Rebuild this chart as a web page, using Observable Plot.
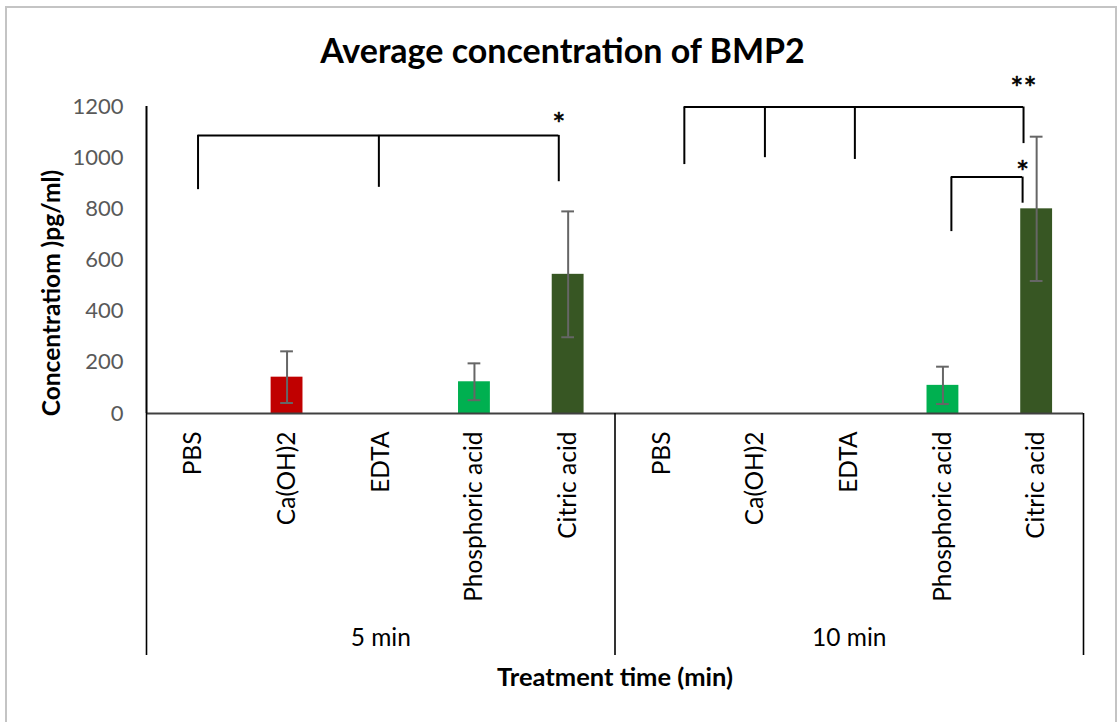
<!DOCTYPE html>
<html>
<head>
<meta charset="utf-8">
<script src="https://cdn.jsdelivr.net/npm/d3@7"></script>
<script src="https://cdn.jsdelivr.net/npm/@observablehq/plot@0.6"></script>
<style>
  body { margin: 0; background: #fff; }
  #wrap { position: relative; width: 1117px; height: 722px; overflow: hidden; background: #fff; font-family: Lato, "Open Sans", sans-serif; }
  #frame { position: absolute; left: 5px; top: 6px; width: 1112px; height: 740px; border: 2px solid #c4c4c4; box-sizing: border-box; }
  #title { position: absolute; left: 4px; width: 1117px; top: 33px; text-align: center; font-weight: bold; font-size: 34px; line-height: 34px; color: #000; }
  #chart { position: absolute; left: 0; top: 0; }
</style>
</head>
<body>
<div id="wrap">
  <div id="frame"></div>
  <div id="chart"></div>
  <div id="title"></div>
</div>
<script>
// ---- data ----
const groups = ["5 min", "10 min"];
const treatments = ["PBS", "Ca(OH)2", "EDTA", "Phosphoric acid", "Citric acid"];
const mean5min = [0, 142, 0, 124, 544];
const err5min = [0, 101, 0, 72, 246];
const mean10min = [0, 0, 0, 110, 800];
const err10min = [0, 0, 0, 73, 282];
const treatmentColors = ["#A5A5A5", "#C00000", "#4472C4", "#00B050", "#375623"];
const yTicks = [0, 200, 400, 600, 800, 1000, 1200];
const yTitle = "Concentratiom )pg/ml)";
const xTitle = "Treatment time (min)";
const chartTitle = "Average concentration of BMP2";

// significance brackets (levels in pg/ml); legs: [treatment, leg bottom, nudge]
const sigBrackets = [
  { group: "5 min", label: "*", level: 1087, labelLevel: 1157,
    legs: [["PBS", 875, 0.05], ["EDTA", 884, -0.02], ["Citric acid", 906, -0.10]] },
  { group: "10 min", label: "**", level: 1198, labelLevel: 1298,
    legs: [["PBS", 973, 0.24], ["Ca(OH)2", 1000, 0.10], ["EDTA", 993, 0.06], ["Citric acid", 1055, -0.14]] },
  { group: "10 min", label: "*", level: 924, labelLevel: 970,
    legs: [["Phosphoric acid", 711, 0.09], ["Citric acid", 822, -0.15]] }
];

// ---- build tables ----
const means = [mean5min, mean10min];
const errs = [err5min, err10min];
const rows = [];
groups.forEach((g, gi) => treatments.forEach((t, ti) => {
  rows.push({ group: g, treatment: t, idx: gi * treatments.length + ti, mean: means[gi][ti], err: errs[gi][ti] });
}));
const idxOf = (g, t) => groups.indexOf(g) * treatments.length + treatments.indexOf(t);

const legs = [], spans = [], labels = [];
sigBrackets.forEach(b => {
  const xs = b.legs.map(([t, bottom, n]) => ({ x: idxOf(b.group, t) + n, bottom, top: b.level }));
  legs.push(...xs);
  spans.push({ x1: xs[0].x, x2: xs[xs.length - 1].x, y: b.level });
  labels.push({ x: xs[xs.length - 1].x, y: b.labelLevel, text: b.label });
});
const groupBounds = [-0.5, ...groups.map((g, gi) => (gi + 1) * treatments.length - 0.5)];
const groupCenters = groups.map((g, gi) => ({ x: gi * treatments.length + (treatments.length - 1) / 2, label: g }));

const FONT = "Lato, 'Open Sans', sans-serif";
const BAR_HALF = 0.17, CAP_HALF = 0.068;

const plot = Plot.plot({
  width: 1117,
  height: 722,
  marginTop: 106,
  marginBottom: 309,
  marginLeft: 146,
  marginRight: 34,
  style: { fontFamily: FONT, background: "transparent", overflow: "visible" },
  x: { type: "linear", domain: [-0.5, 9.5], axis: null },
  y: { domain: [0, 1200], axis: null },
  color: { domain: treatments, range: treatmentColors },
  marks: [
    // bars
    Plot.rectY(rows.filter(d => d.mean > 0), { x1: d => d.idx - BAR_HALF, x2: d => d.idx + BAR_HALF, y1: 0, y2: "mean", fill: "treatment" }),
    // error bars
    Plot.ruleX(rows.filter(d => d.err > 0), { x: "idx", y1: d => d.mean - d.err, y2: d => d.mean + d.err, stroke: "#666666", strokeWidth: 2 }),
    Plot.ruleY(rows.filter(d => d.err > 0), { x1: d => d.idx - CAP_HALF, x2: d => d.idx + CAP_HALF, y: d => d.mean + d.err, stroke: "#666666", strokeWidth: 2 }),
    Plot.ruleY(rows.filter(d => d.err > 0), { x1: d => d.idx - CAP_HALF, x2: d => d.idx + CAP_HALF, y: d => d.mean - d.err, stroke: "#666666", strokeWidth: 2 }),
    // axes lines
    Plot.ruleY([0], { stroke: "#404040", strokeWidth: 2 }),
    Plot.ruleX([-0.5], { stroke: "#000", strokeWidth: 2 }),
    Plot.ruleX(groupBounds, { y1: 0, y2: 0, insetBottom: -242, stroke: "#000", strokeWidth: 1.6 }),
    // y tick labels
    Plot.axisY(yTicks, { tickSize: 0, tickPadding: 23, fontSize: 22, color: "#595959", label: null, tickFormat: d => String(d) }),
    // category labels
    Plot.text(rows, { x: "idx", y: 0, text: "treatment", rotate: -90, textAnchor: "end", dy: 18, fontSize: 24.5, fill: "#000" }),
    // group labels
    Plot.text(groupCenters, { x: "x", y: 0, text: "label", dy: 225, fontSize: 24.5, fill: "#000" }),
    // axis titles
    Plot.text([xTitle], { x: (groups.length * treatments.length - 1) / 2, y: 0, text: d => d, dy: 264, fontSize: 25.5, fontWeight: "bold", fill: "#000" }),
    Plot.text([yTitle], { frameAnchor: "left", textAnchor: "middle", text: d => d, rotate: -90, dx: -94, dy: 33, fontSize: 24.5, fontWeight: "bold", fill: "#000" }),
    // significance brackets
    Plot.ruleX(legs, { x: "x", y1: "bottom", y2: "top", stroke: "#000", strokeWidth: 2 }),
    Plot.ruleY(spans, { x1: "x1", x2: "x2", y: "y", stroke: "#000", strokeWidth: 2 }),
    Plot.text(labels, { x: "x", y: "y", text: "text", fontSize: 31, dy: 8, fill: "#000", stroke: "#000", strokeWidth: 0.6, style: "letter-spacing:2px" })
  ]
});
document.getElementById("chart").appendChild(plot);
document.getElementById("title").textContent = chartTitle;
</script>
</body>
</html>
